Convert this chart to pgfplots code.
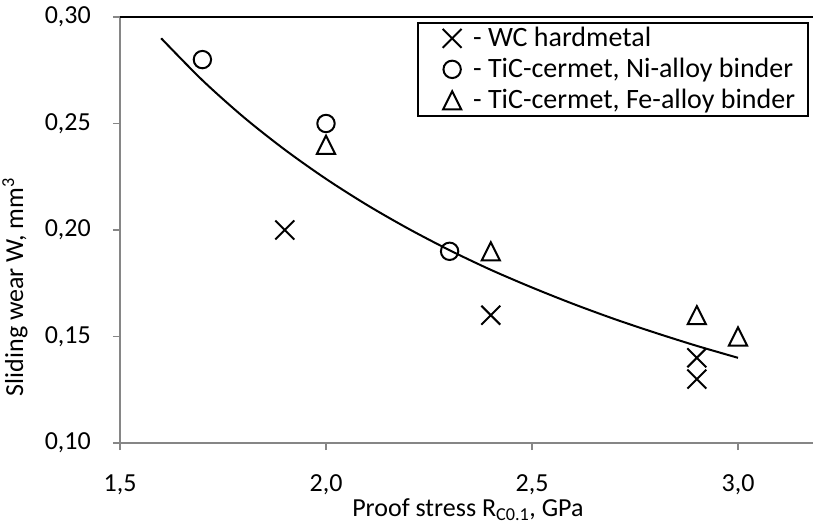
\documentclass[border=0pt]{standalone}
\usepackage{fontspec}
\setmainfont{Carlito}
\usepackage{pgfplots}
\usepackage{pgfplotstable}
\pgfplotsset{compat=1.18}
\definecolor{axgray}{RGB}{134,134,134}
\pgfplotstableread{
x y
1.6 0.2900
1.7 0.2703
1.8 0.2530
1.9 0.2377
2.0 0.2240
2.1 0.2117
2.2 0.2006
2.3 0.1905
2.4 0.1813
2.5 0.1730
2.6 0.1653
2.7 0.1582
2.8 0.1517
2.9 0.1456
3.0 0.1400
}\fitcurve
\begin{document}
\begin{tikzpicture}
\begin{axis}[
  scale only axis, width=693pt, height=426pt, at={(0pt,0pt)}, anchor=south west,
  font=\fontsize{26}{31}\selectfont,
  xmin=1.5, xmax=3.182, ymin=0.1, ymax=0.3,
  axis x line*=bottom, axis y line*=left,
  axis line style={draw=axgray, line width=1.5pt, -},
  xtick={1.5,2.0,2.5,3.0}, ytick={0.10,0.15,0.20,0.25,0.30},
  tick align=outside, major tick length=7pt,
  tick style={draw=axgray, line width=1.5pt},
  /pgf/number format/assume math mode=true,
  x tick label style={anchor=center, inner sep=0pt, yshift=-35pt},
  y tick label style={anchor=east, inner sep=0pt, xshift=-22pt},
  x tick label style={/pgf/number format/.cd, fixed, fixed zerofill, precision=1, use comma},
  y tick label style={/pgf/number format/.cd, fixed, fixed zerofill, precision=2, use comma},
  every axis y label/.style={at={(axis description cs:-0.1515,0.366)}, rotate=90, anchor=center},
  every axis x label/.style={at={(axis description cs:0.502,-0.1725)}, anchor=base, inner sep=0pt},
  xlabel={Proof stress R\textsubscript{C0.1}, GPa},
  ylabel={Sliding wear W, mm\textsuperscript{3}},
  legend style={at={(0.994,0.988)}, anchor=north east, draw=black, line width=1.5pt,
    font=\fontsize{28}{31}\selectfont, inner xsep=8pt, inner ysep=0pt, row sep=0pt,
    nodes={inner xsep=5pt, inner ysep=2pt, text height=22pt, text depth=5pt}},
  legend cell align=left,
  legend image code/.code={\path (0pt,0pt) (40pt,0pt); \draw[#1] plot coordinates {(25pt,0pt)};},
  clip=false,
]
\addplot[black, line width=2pt, no markers, smooth, forget plot] table {\fitcurve};
\addplot[black, only marks, mark=x, mark size=13.4pt, line width=2pt] coordinates {
(1.9,0.20) (2.4,0.16) (2.9,0.14) (2.9,0.13)};
\addlegendentry{- WC hardmetal}
\addplot[black, only marks, mark=o, mark size=8.7pt, line width=2pt] coordinates {
(1.7,0.28) (2.0,0.25) (2.3,0.19)};
\addlegendentry{- TiC-cermet, Ni-alloy binder}
\addplot[black, only marks, mark=triangle, mark size=10.5pt, line width=2pt, mark options={yshift=-3pt, yscale=1.15}] coordinates {
(2.0,0.24) (2.4,0.19) (2.9,0.16) (3.0,0.15)};
\addlegendentry{- TiC-cermet, Fe-alloy binder}
\draw[black, line width=2pt] (rel axis cs:0,1) -- (rel axis cs:1,1);
\end{axis}
\pgfresetboundingbox
\path[use as bounding box] (-120pt,-81pt) rectangle (693pt,443pt);
\end{tikzpicture}
\end{document}
